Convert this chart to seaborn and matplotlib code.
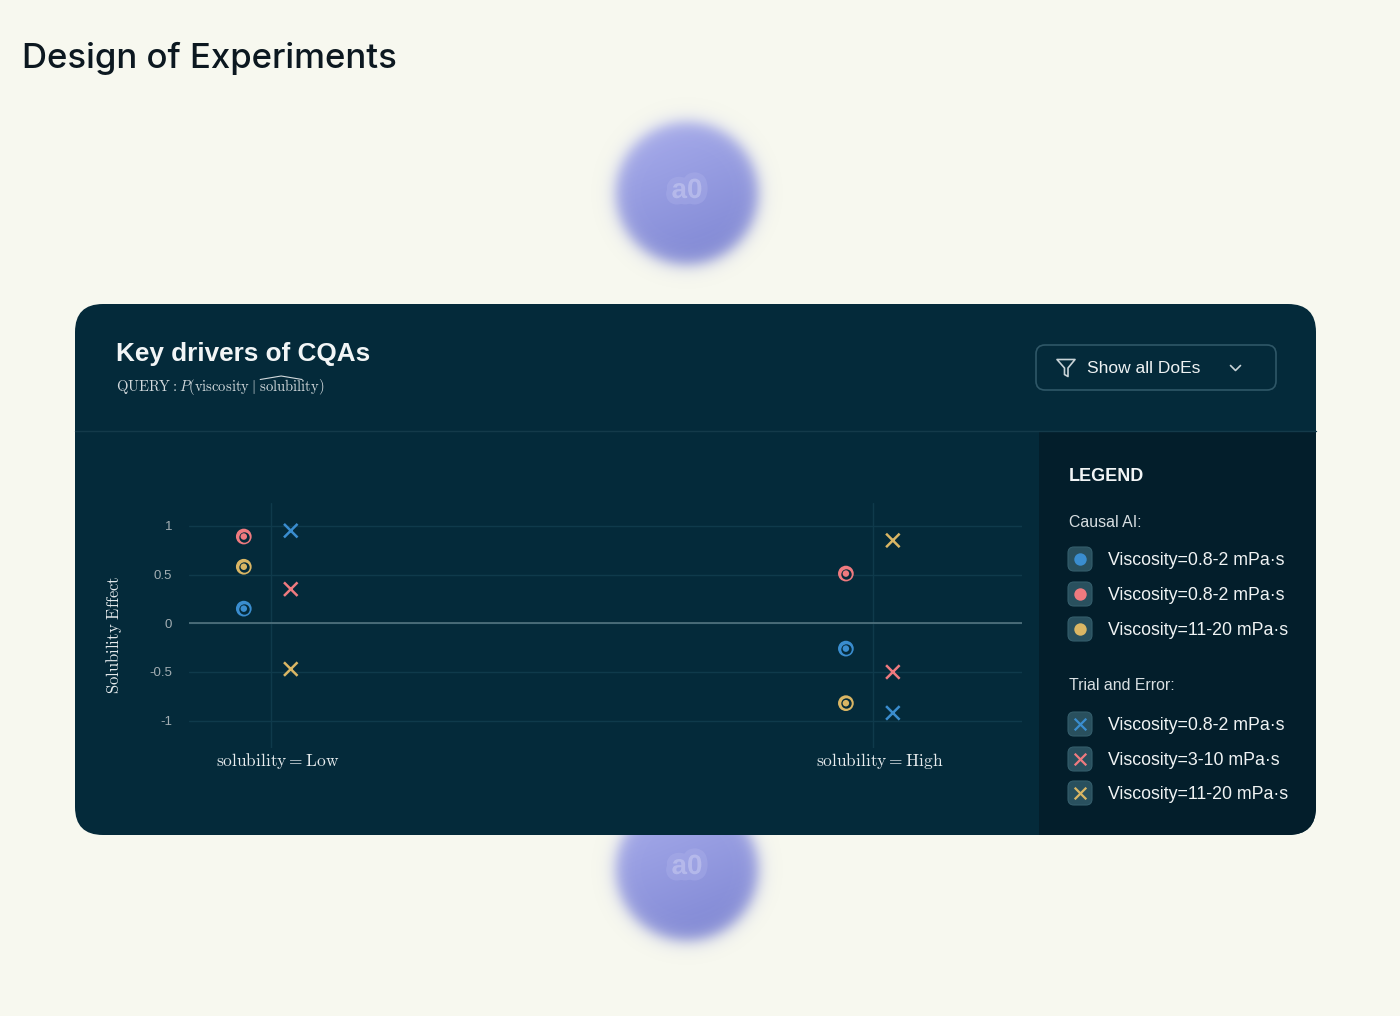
import numpy as np
import pandas as pd
import matplotlib
matplotlib.use("Agg")
import matplotlib.pyplot as plt
import seaborn as sns
from matplotlib.patches import FancyBboxPatch, Rectangle, Polygon
from matplotlib.lines import Line2D
from matplotlib.transforms import ScaledTranslation
import matplotlib.patheffects as pe

# ---- data ----
categories = ["Low", "High"]
series_colors = ["blue", "red", "yellow"]
causal_ai_low = [0.15, 0.89, 0.58]
causal_ai_high = [-0.26, 0.51, -0.82]
trial_low = [0.95, 0.35, -0.47]
trial_high = [-0.92, -0.50, 0.85]
causal_ai_labels = ["Viscosity=0.8-2 mPa·s", "Viscosity=0.8-2 mPa·s", "Viscosity=11-20 mPa·s"]
trial_labels = ["Viscosity=0.8-2 mPa·s", "Viscosity=3-10 mPa·s", "Viscosity=11-20 mPa·s"]
y_ticks = [-1, -0.5, 0, 0.5, 1]
y_tick_labels = ["-1", "-0.5", "0", "0.5", "1"]

# ---- style ----
sns.set_theme(style="white")
plt.rcParams["font.family"] = ["Liberation Sans", "DejaVu Sans"]
plt.rcParams["mathtext.fontset"] = "cm"

W, H = 1400, 1016
CREAM = "#f7f8ef"
CARD = "#042a3a"
PANEL = "#031e2b"
GRID = "#0f3a4b"
palette = {"blue": "#3a8dcf", "red": "#ef7a7f", "yellow": "#dab664"}

rows = []
for i, cat in enumerate(categories):
    ai_vals = [causal_ai_low, causal_ai_high][i]
    tr_vals = [trial_low, trial_high][i]
    for c, v in zip(series_colors, ai_vals):
        rows.append({"solubility": cat, "pos": i, "method": "Causal AI", "color": c, "effect": v})
    for c, v in zip(series_colors, tr_vals):
        rows.append({"solubility": cat, "pos": i, "method": "Trial and Error", "color": c, "effect": v})
df = pd.DataFrame(rows)
df["x"] = df["pos"] + df["method"].map({"Causal AI": -0.045, "Trial and Error": 0.033})

fig = plt.figure(figsize=(W / 100, H / 100), dpi=100, facecolor=CREAM)

# background layer in pixel coordinates
bg = fig.add_axes([0, 0, 1, 1])
bg.set_zorder(0)
bg.axis("off")


def bubble(cx, cy, r=71, n=210):
    yy, xx = np.mgrid[0:n, 0:n] + 0.5
    px = cx - n / 2 + xx
    py = cy - n / 2 + yy
    d = np.hypot(px - cx, py - cy)
    alpha = 1 / (1 + np.exp((d - r) / 4.5))
    t = np.clip(((px - cx) * 0.35 + (py - cy) * 0.9) / 150 + 0.5, 0, 1)[..., None]
    light = np.array([0.65, 0.67, 0.92])
    dark = np.array([0.50, 0.53, 0.83])
    rgb = light * (1 - t) + dark * t
    img = np.dstack([rgb, alpha])
    bg.imshow(img, extent=(cx - n / 2, cx + n / 2, cy + n / 2, cy - n / 2),
              interpolation="bilinear", zorder=1)
    bg.text(cx, cy - 2, "a0", ha="center", va="center", fontsize=20, fontweight="bold",
            color="#d2d5f5", alpha=0.28, zorder=1.5,
            path_effects=[pe.withStroke(linewidth=9, foreground="#b4b8ee", alpha=0.3)])


bubble(687, 193)
bubble(687, 869)
bg.set_xlim(0, W)
bg.set_ylim(H, 0)
bg.set_aspect("auto")

bg.text(22, 68, "Design of Experiments", fontsize=25, family=["Inter", "DejaVu Sans"],
        fontweight="medium", color="#0c1820", va="baseline", ha="left")

card = FancyBboxPatch((75, 304), 1241, 531, boxstyle="round,pad=0,rounding_size=28",
                      fc=CARD, ec="none", zorder=2)
bg.add_patch(card)
panel = Rectangle((1039, 431), 277, 404, fc=PANEL, ec="none", zorder=2.5)
bg.add_patch(panel)
panel.set_clip_path(card)
bg.add_line(Line2D([75, 1316], [431, 431], color="#143a4a", lw=1, zorder=2.6))

# header
bg.text(116, 361, "Key drivers of CQAs", fontsize=18.8, fontweight="bold",
        color="#f2f5f6", va="baseline", zorder=3)
q_kw = dict(fontsize=10.5, color="#d3dadd", va="baseline", zorder=3)
bg.text(116, 391, r"$\mathrm{QUERY}:P(\mathrm{viscosity}\;|\;\mathrm{solubility})$", **q_kw)
# hat over "solubility", placed from the measured text widths
fig.canvas.draw()
rend = fig.canvas.get_renderer()
tp = bg.text(116, 391, r"$\mathrm{QUERY}:P(\mathrm{viscosity}\;|\;$", alpha=0, **q_kw)
tw = bg.text(116, 391, r"$\mathrm{QUERY}:P(\mathrm{viscosity}\;|\;\mathrm{solubility}$", alpha=0, **q_kw)
inv = bg.transData.inverted()
x1 = inv.transform((tp.get_window_extent(rend).x1, 0))[0]
x2 = inv.transform((tw.get_window_extent(rend).x1, 0))[0]
tp.remove()
tw.remove()
hx = np.linspace(x1 + 0.06 * (x2 - x1), x1 + 0.72 * (x2 - x1), 3)
bg.add_line(Line2D(hx, [379.5, 376, 379.5], color="#d3dadd", lw=0.8, zorder=3))

# filter button
bg.add_patch(FancyBboxPatch((1036, 345), 240, 45, boxstyle="round,pad=0,rounding_size=9",
                            fc="none", ec="#2f5767", lw=1.2, zorder=3))
bg.add_patch(Polygon([(1057, 359.5), (1075, 359.5), (1068, 368), (1068, 376.5),
                      (1064.5, 374.5), (1064.5, 368)], closed=True, fc="none",
                     ec="#c9d3d7", lw=1.2, joinstyle="round", zorder=3))
bg.add_line(Line2D([1230.5, 1235.5, 1240.5], [365.5, 370.5, 365.5], color="#c9d3d7",
                   lw=1.2, zorder=3))
bg.text(1087, 373, "Show all DoEs", fontsize=12.5, color="#eef2f3", va="baseline", zorder=3)

# legend panel
bg.text(1069, 481, "LEGEND", fontsize=13, fontweight="bold", color="#f2f5f6",
        va="baseline", zorder=3)


def legend_block(title, title_y, labels, ys, kind):
    bg.text(1069, title_y + 5.6, title, fontsize=11.4, color="#d8dfe2", va="baseline", zorder=3)
    for lab, c, y in zip(labels, series_colors, ys):
        bg.add_patch(FancyBboxPatch((1068, y - 12), 24, 24, boxstyle="round,pad=0,rounding_size=6",
                                    fc="#29505e", ec="#345d6b", lw=0.8, zorder=3))
        if kind == "dot":
            bg.scatter([1080], [y], s=80, color=palette[c], lw=0, zorder=4)
        else:
            bg.scatter([1080], [y], s=70, marker="x", color=palette[c], lw=1.6, zorder=4)
        bg.text(1108, y + 6.4, lab, fontsize=12.8, color="#f0f3f4", va="baseline", zorder=3)


legend_block("Causal AI:", 521, causal_ai_labels, [559, 594, 629], "dot")
legend_block("Trial and Error:", 684, trial_labels, [724, 759, 793], "x")

bg.set_xlim(0, W)
bg.set_ylim(H, 0)

# ---- data axes ----
top, bottom, left, right = 503, 748, 189, 1022
ax = fig.add_axes([left / W, 1 - bottom / H, (right - left) / W, (bottom - top) / H])
ax.set_zorder(2)
ax.set_facecolor("none")

ai = df[df["method"] == "Causal AI"]
tr = df[df["method"] == "Trial and Error"]
sns.scatterplot(data=ai, x="x", y="effect", hue="color", palette=palette, s=128,
                linewidth=0, legend=False, ax=ax, zorder=3)
sns.scatterplot(data=ai, x="x", y="effect", color=CARD, s=56, linewidth=0,
                legend=False, ax=ax, zorder=4)
sns.scatterplot(data=ai, x="x", y="effect", hue="color", palette=palette, s=22,
                linewidth=0, legend=False, ax=ax, zorder=5)
sns.scatterplot(data=tr, x="x", y="effect", hue="color", palette=palette, marker="x",
                s=95, linewidth=1.8, legend=False, ax=ax, zorder=3)

ax.set_xlim(-0.136, 1.2475)
ax.set_ylim(-1.28, 1.234)
ax.set_xticks(range(len(categories)))
ax.set_xticklabels([r"$\mathrm{solubility} = \mathrm{%s}$" % c for c in categories])
ax.set_yticks(y_ticks)
ax.set_yticklabels(y_tick_labels)
for s in ax.spines.values():
    s.set_visible(False)
ax.grid(True, color=GRID, lw=1)
ax.axhline(0, color="#5a7b86", lw=1.1, zorder=1)
ax.tick_params(axis="y", length=0, pad=12, labelsize=9.5, labelcolor="#a3aeb3")
ax.tick_params(axis="x", length=0, pad=2, labelsize=12.5, labelcolor="#e6ebed")
for lab in ax.get_xticklabels():
    lab.set_transform(lab.get_transform() + ScaledTranslation(0.07, 0, fig.dpi_scale_trans))
ax.set_xlabel("")
ax.set_ylabel(r"$\mathrm{Solubility\ Effect}$", fontsize=12, color="#e6ebed")
ax.yaxis.set_label_coords((124 - left) / (right - left), (bottom - 634.5) / (bottom - top))

fig.savefig("out.png", dpi=100, facecolor=CREAM)
